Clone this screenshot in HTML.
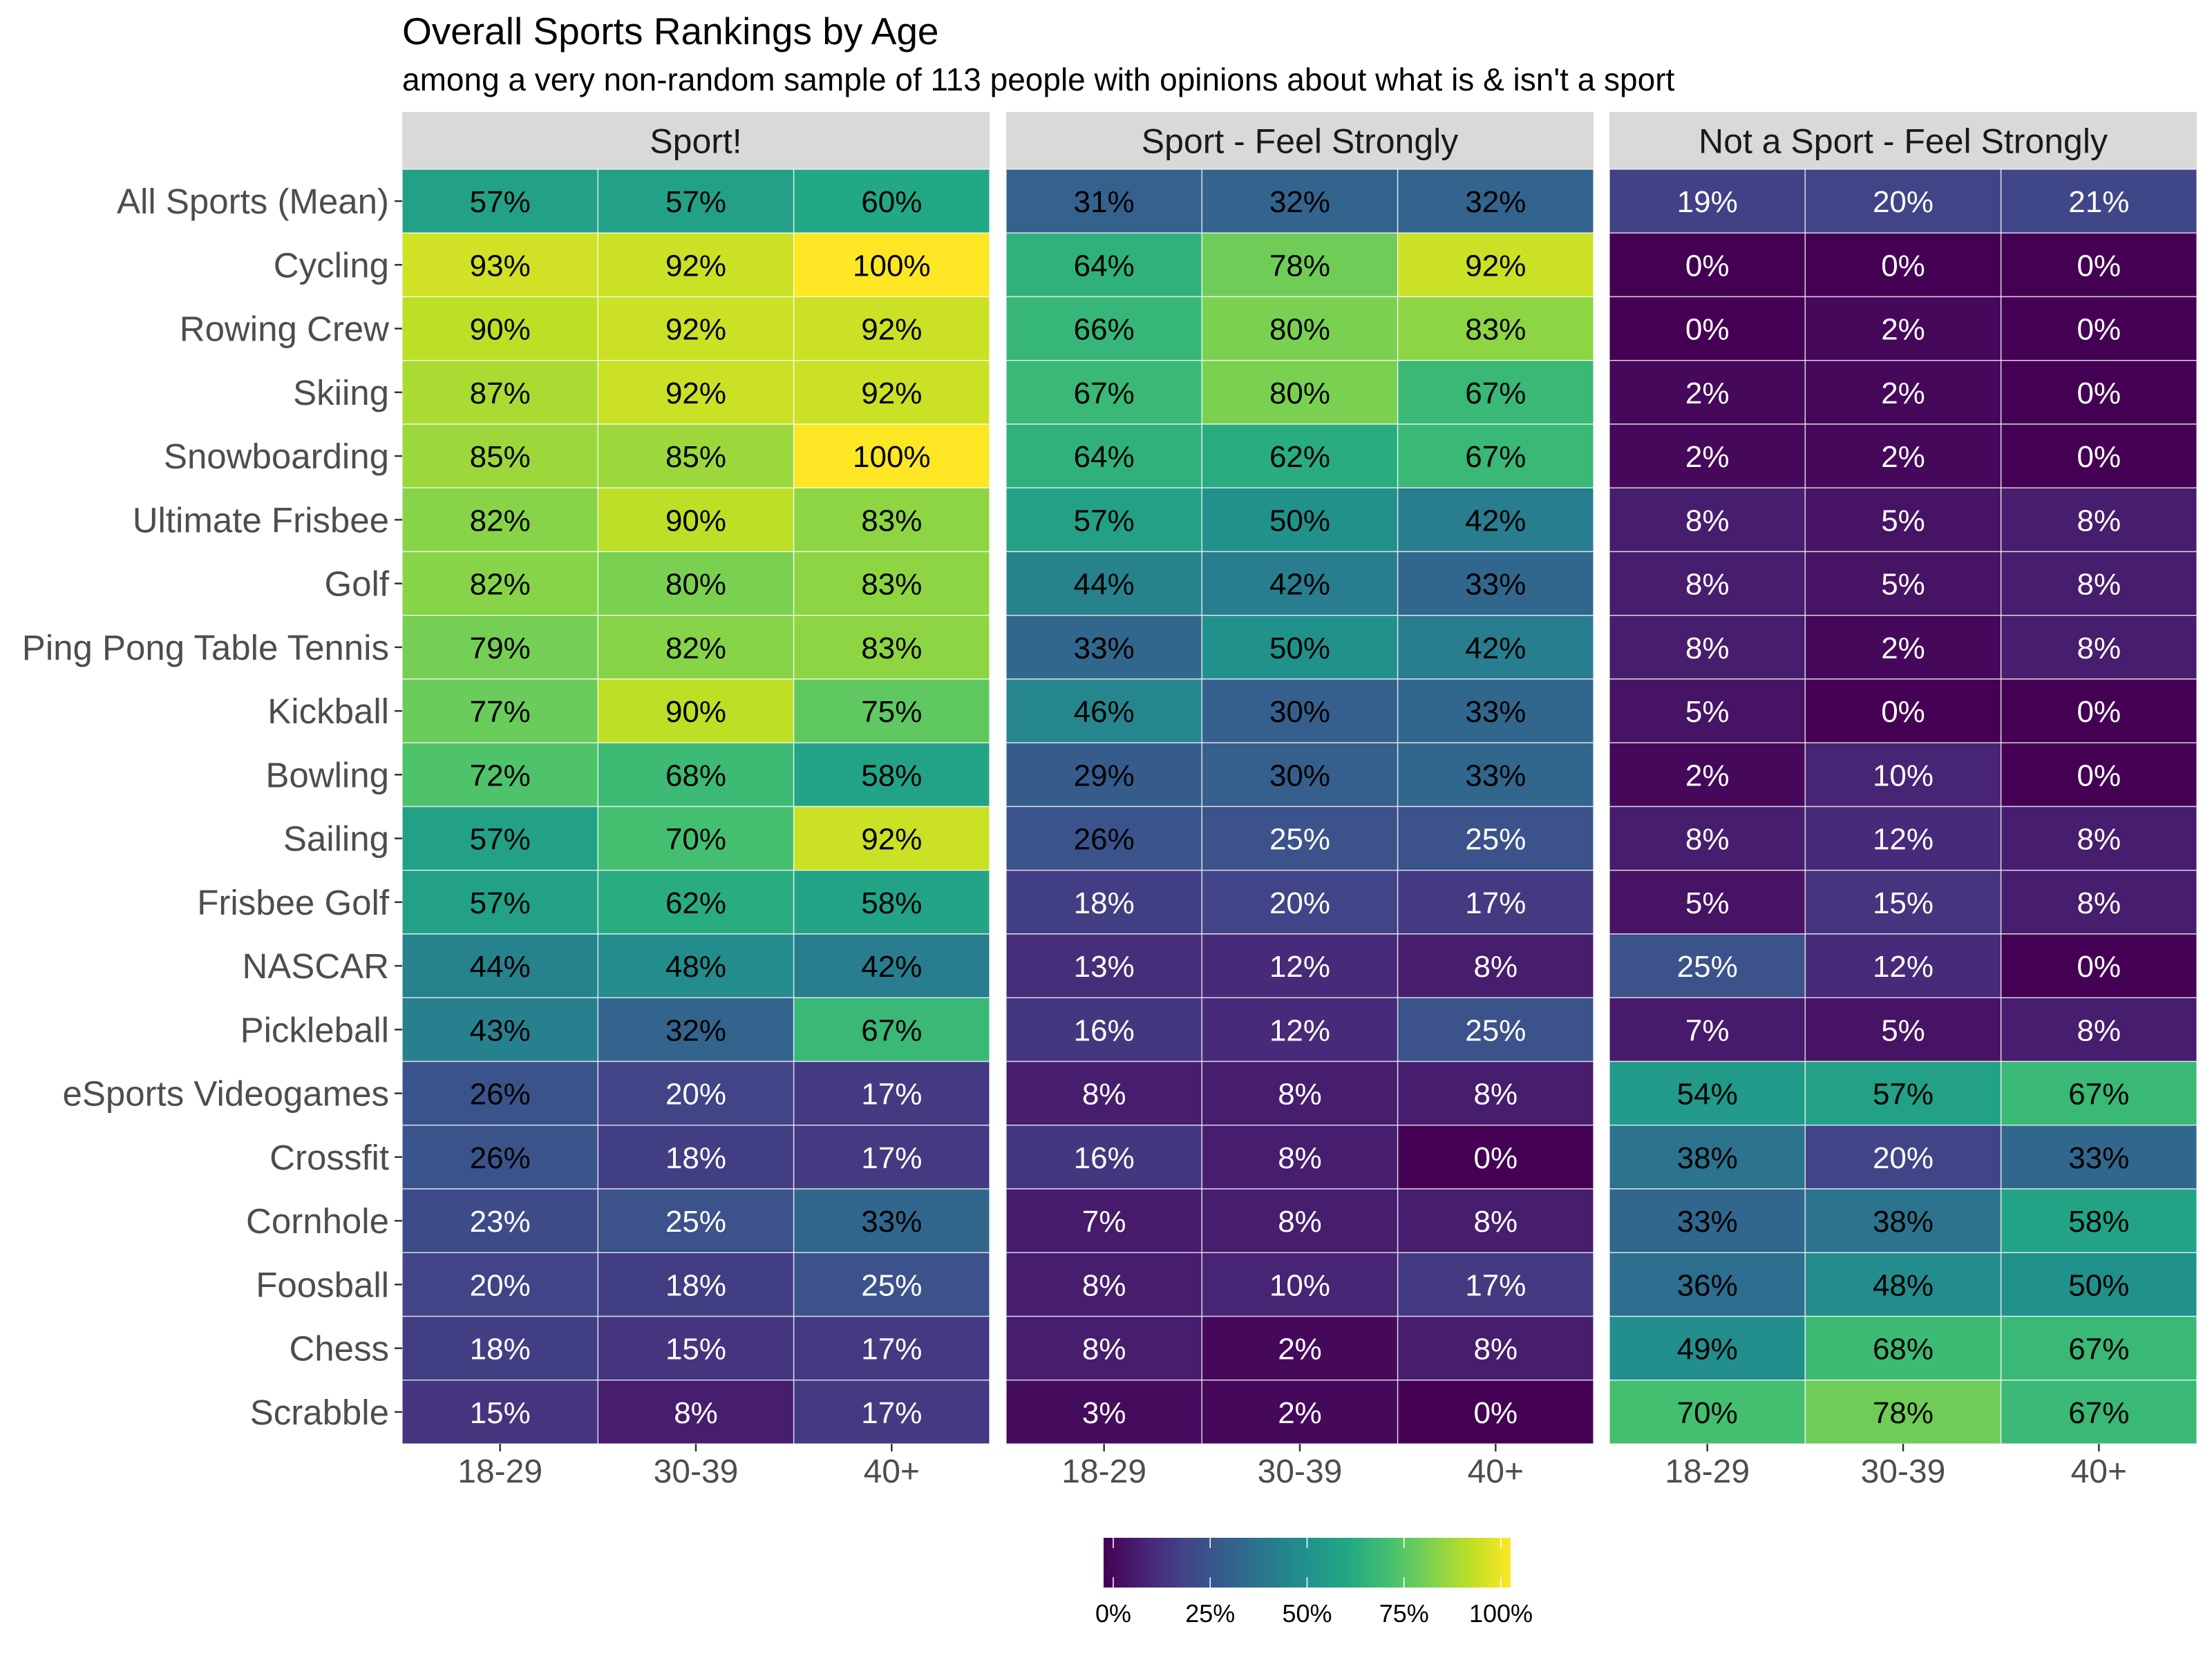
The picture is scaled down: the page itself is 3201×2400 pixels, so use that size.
<!DOCTYPE html>
<html><head><meta charset="utf-8">
<style>
html,body{margin:0;padding:0;background:#fff;}
svg{display:block;font-family:"Liberation Sans",Arial,sans-serif;}
</style></head>
<body>
<svg id="chart" width="3201" height="2400" viewBox="0 0 3201 2400" xmlns="http://www.w3.org/2000/svg">
<rect width="3201" height="2400" fill="#fff"/>
<text x="582" y="64" font-size="55" fill="#000">Overall Sports Rankings by Age</text>
<text x="582" y="131" font-size="46" fill="#000">among a very non-random sample of 113 people with opinions about what is &amp; isn't a sport</text>
<g id="plot"></g>
<defs>
<linearGradient id="vgrad" x1="0" x2="1" y1="0" y2="0">
<stop offset="0" stop-color="#440154"/><stop offset="0.1" stop-color="#482475"/><stop offset="0.2" stop-color="#414487"/><stop offset="0.3" stop-color="#355f8d"/><stop offset="0.4" stop-color="#2a788e"/><stop offset="0.5" stop-color="#21918c"/><stop offset="0.6" stop-color="#22a884"/><stop offset="0.7" stop-color="#44bf70"/><stop offset="0.8" stop-color="#7ad151"/><stop offset="0.9" stop-color="#bddf26"/><stop offset="1" stop-color="#fde725"/>
</linearGradient>
</defs>
</svg>
<script>
const categories = ["All Sports (Mean)","Cycling","Rowing Crew","Skiing","Snowboarding","Ultimate Frisbee","Golf","Ping Pong Table Tennis","Kickball","Bowling","Sailing","Frisbee Golf","NASCAR","Pickleball","eSports Videogames","Crossfit","Cornhole","Foosball","Chess","Scrabble"];
const panels = ["Sport!","Sport - Feel Strongly","Not a Sport - Feel Strongly"];
const ageGroups = ["18-29","30-39","40+"];
const sportValues = [[57,57,60],[93,92,100],[90,92,92],[87,92,92],[85,85,100],[82,90,83],[82,80,83],[79,82,83],[77,90,75],[72,68,58],[57,70,92],[57,62,58],[44,48,42],[43,32,67],[26,20,17],[26,18,17],[23,25,33],[20,18,25],[18,15,17],[15,8,17]];
const sportStrongValues = [[31,32,32],[64,78,92],[66,80,83],[67,80,67],[64,62,67],[57,50,42],[44,42,33],[33,50,42],[46,30,33],[29,30,33],[26,25,25],[18,20,17],[13,12,8],[16,12,25],[8,8,8],[16,8,0],[7,8,8],[8,10,17],[8,2,8],[3,2,0]];
const notSportStrongValues = [[19,20,21],[0,0,0],[0,2,0],[2,2,0],[2,2,0],[8,5,8],[8,5,8],[8,2,8],[5,0,0],[2,10,0],[8,12,8],[5,15,8],[25,12,0],[7,5,8],[54,57,67],[38,20,33],[33,38,58],[36,48,50],[49,68,67],[70,78,67]];
const legendTicks = [0,25,50,75,100];

const NS="http://www.w3.org/2000/svg";
const plot=document.getElementById('plot');
const panelX=[582,1456,2329], panelW=850, gridTop=245, gridBot=2090, stripTop=162;
const rowH=(gridBot-gridTop)/categories.length, colW=panelW/ageGroups.length;
const vir=["#440154","#482475","#414487","#355f8d","#2a788e","#21918c","#22a884","#44bf70","#7ad151","#bddf26","#fde725"];
function hex(c){return [parseInt(c.slice(1,3),16),parseInt(c.slice(3,5),16),parseInt(c.slice(5,7),16)];}
function color(v){let t=Math.max(0,Math.min(1,v/100))*10;let i=Math.min(9,Math.floor(t)),f=t-i;
 const a=hex(vir[i]),b=hex(vir[i+1]);return "rgb("+a.map((x,k)=>Math.round(x+(b[k]-x)*f)).join(",")+")";}
function xScale(p,c){return panelX[p]+c*colW;}
function yScale(r){return gridTop+r*rowH;}
function mk(tag,attrs,txt){const e=document.createElementNS(NS,tag);for(const k in attrs)e.setAttribute(k,attrs[k]);if(txt!==undefined)e.textContent=txt;plot.appendChild(e);return e;}
const series=[sportValues,sportStrongValues,notSportStrongValues];
panels.forEach((pn,p)=>{
 const s=mk('rect',{x:panelX[p],y:stripTop,width:panelW,height:gridTop-stripTop,fill:'#d9d9d9'});
 
 
 const st=mk('text',{x:panelX[p]+panelW/2,y:(stripTop+gridTop)/2+18,'font-size':50,fill:'#1a1a1a','text-anchor':'middle'},pn);
 
 
 categories.forEach((cat,r)=>{
  ageGroups.forEach((ag,c)=>{
   const v=series[p][r][c];
   const cell=mk('rect',{x:xScale(p,c),y:yScale(r),width:colW,height:rowH,fill:color(v),stroke:'rgba(255,255,255,0.7)','stroke-width':1.5});
   
   
   const t=mk('text',{x:xScale(p,c)+colW/2,y:yScale(r)+rowH/2+16,'font-size':44,'text-anchor':'middle',fill:v>25?'#000':'#fff'},v+'%');
   
   
  });
 });
 ageGroups.forEach((ag,c)=>{
  const cx=xScale(p,c)+colW/2;
  const tk=mk('line',{x1:cx,x2:cx,y1:gridBot,y2:gridBot+11,stroke:'#333','stroke-width':2.5});
  
  
  const tl=mk('text',{x:cx,y:2146,'font-size':48,fill:'#4d4d4d','text-anchor':'middle'},ag);
  
  
 });
});
categories.forEach((cat,r)=>{
 const cy=yScale(r)+rowH/2;
 const tk=mk('line',{x1:571,x2:582,y1:cy,y2:cy,stroke:'#333','stroke-width':2.5});
 
 
 const tl=mk('text',{x:563,y:cy+18,'font-size':51,fill:'#4d4d4d','text-anchor':'end'},cat);
 
 
});
// legend
const lgX=1597,lgW=589,lgY=2226,lgH=72,lgMin=1611,lgMax=2172;
const lb=mk('rect',{x:lgX,y:lgY,width:lgW,height:lgH,fill:'url(#vgrad)'});


legendTicks.forEach(v=>{
 const x=lgMin+(lgMax-lgMin)*v/100;
 mk('line',{x1:x,x2:x,y1:lgY,y2:lgY+15,stroke:'#fff','stroke-width':1.5});
 mk('line',{x1:x,x2:x,y1:lgY+lgH-15,y2:lgY+lgH,stroke:'#fff','stroke-width':1.5});
 const t=mk('text',{x:x,y:2348,'font-size':36,fill:'#000','text-anchor':'middle'},v+'%');
 
 
});
</script>
</body></html>
